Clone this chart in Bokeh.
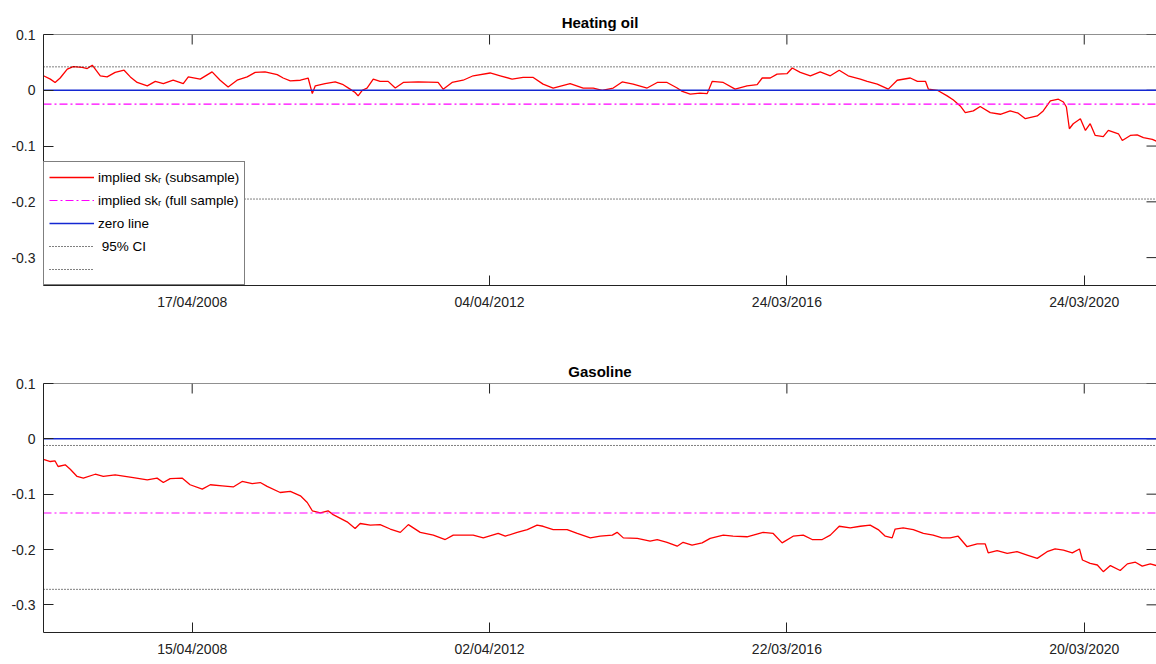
from bokeh.plotting import figure
from bokeh.models import (Range1d, FixedTicker, Legend, LegendItem, Span,
                          CustomJSTickFormatter)
from bokeh.layouts import column
from bokeh.embed import file_html
from bokeh.resources import INLINE

# ---------------- data ----------------
# x = observation index (trading days); tick labels are the dates at those indices
tick_obs = [500, 1500, 2500, 3500]
ho_tick_labels = ["17/04/2008", "04/04/2012", "24/03/2016", "24/03/2020"]
gas_tick_labels = ["15/04/2008", "02/04/2012", "22/03/2016", "20/03/2020"]
x_min, x_max = 0, 3743
y_min, y_max = -0.35, 0.1
y_ticks = [-0.3, -0.2, -0.1, 0.0, 0.1]

# Heating oil: implied skewness (subsample)
ho_obs = [0, 23, 39, 56, 80, 100, 130, 147, 164, 191, 214, 241, 271, 292, 315, 349, 376,
          403, 436, 470, 487, 527, 567, 594, 621, 651, 685, 712, 745, 786, 806, 830, 864,
          890, 904, 914, 947, 981, 1008, 1031, 1048, 1058, 1072, 1088, 1109, 1132, 1159,
          1183, 1210, 1260, 1327, 1344, 1374, 1411, 1445, 1502, 1536, 1576, 1613, 1647,
          1680, 1714, 1771, 1815, 1849, 1879, 1916, 1946, 1983, 2030, 2064, 2097, 2131,
          2148, 2175, 2208, 2232, 2249, 2286, 2326, 2366, 2400, 2417, 2444, 2467, 2501,
          2518, 2545, 2579, 2612, 2646, 2676, 2706, 2747, 2770, 2804, 2841, 2871, 2915,
          2939, 2966, 2976, 3006, 3039, 3060, 3083, 3100, 3127, 3150, 3184, 3218, 3251,
          3278, 3302, 3342, 3362, 3386, 3413, 3430, 3440, 3450, 3463, 3487, 3504, 3520,
          3537, 3564, 3581, 3615, 3628, 3655, 3678, 3699, 3729, 3742]
ho_skew = [0.026, 0.020, 0.014, 0.022, 0.038, 0.0425, 0.041, 0.039, 0.045, 0.026, 0.024,
           0.032, 0.036, 0.024, 0.014, 0.008, 0.016, 0.012, 0.018, 0.012, 0.024, 0.020,
           0.033, 0.018, 0.006, 0.018, 0.024, 0.032, 0.033, 0.028, 0.022, 0.017, 0.018,
           0.022, -0.006, 0.008, 0.012, 0.015, 0.010, 0.002, -0.004, -0.010, 0.000, 0.004,
           0.020, 0.016, 0.016, 0.004, 0.014, 0.015, 0.014, 0.002, 0.014, 0.018, 0.026,
           0.031, 0.026, 0.020, 0.023, 0.023, 0.011, 0.004, 0.012, 0.004, 0.004, 0.000,
           0.004, 0.015, 0.011, 0.004, 0.014, 0.014, 0.004, -0.002, -0.007, -0.005, -0.006,
           0.016, 0.014, 0.002, 0.008, 0.010, 0.022, 0.022, 0.029, 0.030, 0.040, 0.032,
           0.026, 0.033, 0.026, 0.036, 0.026, 0.020, 0.016, 0.011, 0.002, 0.018, 0.022,
           0.016, 0.016, 0.002, 0.000, -0.010, -0.0175, -0.028, -0.040, -0.037, -0.029,
           -0.040, -0.043, -0.037, -0.041, -0.051, -0.046, -0.037, -0.019, -0.016, -0.021,
           -0.030, -0.069, -0.060, -0.051, -0.072, -0.060, -0.081, -0.083, -0.072, -0.078,
           -0.090, -0.081, -0.080, -0.085, -0.088, -0.091]
ho_full_sample = -0.025
ho_ci_upper = 0.042
ho_ci_lower = -0.195

# Gasoline: implied skewness (subsample)
gas_obs = [0, 23, 39, 49, 73, 90, 113, 134, 174, 201, 241, 302, 349, 382, 403, 426, 466,
           493, 534, 561, 601, 638, 668, 702, 729, 752, 796, 830, 864, 887, 904, 931, 957,
           974, 1021, 1048, 1065, 1099, 1132, 1166, 1200, 1227, 1267, 1311, 1351, 1378,
           1445, 1479, 1529, 1553, 1593, 1627, 1660, 1680, 1714, 1761, 1795, 1839, 1872,
           1913, 1929, 1950, 1997, 2040, 2064, 2097, 2131, 2151, 2181, 2215, 2242, 2286,
           2319, 2366, 2420, 2454, 2484, 2521, 2555, 2585, 2619, 2646, 2676, 2713, 2747,
           2780, 2807, 2831, 2854, 2864, 2891, 2925, 2959, 2992, 3022, 3049, 3076, 3106,
           3140, 3167, 3177, 3207, 3241, 3274, 3308, 3342, 3375, 3402, 3430, 3460, 3484,
           3494, 3520, 3544, 3564, 3588, 3621, 3645, 3672, 3695, 3722, 3742]
gas_skew = [-0.037, -0.041, -0.040, -0.050, -0.047, -0.055, -0.068, -0.071, -0.064,
            -0.068, -0.065, -0.070, -0.074, -0.071, -0.079, -0.072, -0.071, -0.083, -0.091,
            -0.083, -0.085, -0.087, -0.077, -0.081, -0.079, -0.086, -0.097, -0.095, -0.103,
            -0.115, -0.130, -0.134, -0.130, -0.137, -0.150, -0.162, -0.153, -0.156, -0.155,
            -0.163, -0.169, -0.155, -0.169, -0.174, -0.182, -0.174, -0.174, -0.179, -0.171,
            -0.176, -0.169, -0.164, -0.156, -0.158, -0.164, -0.164, -0.171, -0.179, -0.176,
            -0.174, -0.169, -0.179, -0.180, -0.185, -0.182, -0.187, -0.194, -0.187, -0.192,
            -0.188, -0.180, -0.174, -0.176, -0.177, -0.169, -0.171, -0.188, -0.176, -0.174,
            -0.182, -0.182, -0.174, -0.158, -0.161, -0.158, -0.156, -0.164, -0.176, -0.179,
            -0.163, -0.161, -0.164, -0.171, -0.174, -0.179, -0.179, -0.176, -0.195, -0.190,
            -0.190, -0.206, -0.202, -0.207, -0.204, -0.210, -0.216, -0.204, -0.199, -0.201,
            -0.206, -0.199, -0.219, -0.225, -0.228, -0.240, -0.229, -0.238, -0.226, -0.223,
            -0.230, -0.226, -0.229]
gas_full_sample = -0.134
gas_ci_upper = -0.012
gas_ci_lower = -0.272

legend_labels = ["implied sk\u1d63 (subsample)", "implied sk\u1d63 (full sample)",
                 "zero line", " 95% CI", " "]

FONT = "Liberation Sans"
RED = "#ff0000"
MAGENTA = "#ff00ff"
BLUE = "#1428d2"
DOT = "#000000"
AXC = "#222222"


def make_panel(title, obs, skew, full, ci_up, ci_lo, tick_labels, height,
               border_top, border_bottom, with_legend):
    p = figure(width=1156, height=height, output_backend="svg", toolbar_location=None,
               x_range=Range1d(x_min, x_max), y_range=Range1d(y_min, y_max),
               min_border_left=43, min_border_right=0, min_border_top=border_top,
               min_border_bottom=border_bottom)
    p.title.text = title
    p.title.align = "center"
    p.title.text_font = FONT
    p.title.text_font_size = "15px"
    p.title.text_font_style = "bold"
    p.title.text_color = "black"
    p.title.standoff = 8
    p.grid.visible = False
    p.outline_line_color = None
    p.background_fill_color = "white"
    p.border_fill_color = "white"

    # bottom axis
    xa = p.xaxis[0]
    xa.ticker = FixedTicker(ticks=tick_obs)
    xa.major_label_overrides = {t: l for t, l in zip(tick_obs, tick_labels)}
    # left axis
    ya = p.yaxis[0]
    ya.ticker = FixedTicker(ticks=y_ticks)
    ya.formatter = CustomJSTickFormatter(
        code="return Math.abs(tick) < 1e-9 ? '0' : tick.toFixed(1);")
    for ax in (xa, ya):
        ax.major_tick_in = 10
        ax.major_tick_out = 0
        ax.minor_tick_line_color = None
        ax.axis_line_color = AXC
        ax.major_tick_line_color = AXC
        ax.major_label_text_font = FONT
        ax.major_label_text_font_size = "14px"
        ax.major_label_text_color = AXC
    xa.major_label_standoff = 8
    ya.major_label_standoff = 8

    # top frame edge and mirror ticks (top and right), 10 px inward
    p.add_layout(Span(location=y_max, dimension="width", line_color=AXC, line_width=1))
    p.ray(x=tick_obs, y=[y_max] * len(tick_obs), length=10, length_units="screen",
          angle=-90, angle_units="deg", line_color=AXC, line_width=1)
    p.ray(x=[x_max] * len(y_ticks), y=y_ticks, length=10, length_units="screen",
          angle=180, angle_units="deg", line_color=AXC, line_width=1)

    r_sub = p.line(obs, skew, line_color=RED, line_width=1.3)
    r_full = p.line([x_min, x_max], [full, full], line_color=MAGENTA, line_width=1.2,
                    line_dash="8 3 2 3")
    r_zero = p.line([x_min, x_max], [0, 0], line_color=BLUE, line_width=1.5)
    r_ciu = p.line([x_min, x_max], [ci_up, ci_up], line_color=DOT, line_width=1,
                   line_dash="1 2")
    r_cil = p.line([x_min, x_max], [ci_lo, ci_lo], line_color=DOT, line_width=1,
                   line_dash="1 2")

    if with_legend:
        items = [LegendItem(label=lab, renderers=[r]) for lab, r in
                 zip(legend_labels, [r_sub, r_full, r_zero, r_ciu, r_cil])]
        leg = Legend(items=items, location="bottom_left", margin=0, padding=5,
                     spacing=3, label_height=20, glyph_height=20, glyph_width=45,
                     label_standoff=4, label_text_font=FONT,
                     label_text_font_size="13.5px", label_text_color="black",
                     border_line_color="black", border_line_width=1,
                     background_fill_color="white", background_fill_alpha=1.0)
        p.add_layout(leg, "center")
    return p


p1 = make_panel("Heating oil", ho_obs, ho_skew, ho_full_sample, ho_ci_upper,
                ho_ci_lower, ho_tick_labels, 356, 34, 71, True)
p2 = make_panel("Gasoline", gas_obs, gas_skew, gas_full_sample, gas_ci_upper,
                gas_ci_lower, gas_tick_labels, 306, 26, 30, False)

layout = column(p1, p2)
open("out.html", "w").write(file_html(layout, INLINE))
